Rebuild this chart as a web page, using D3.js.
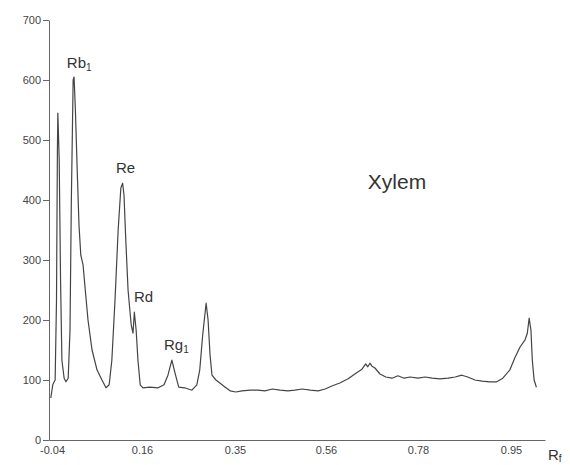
<!DOCTYPE html>
<html>
<head>
<meta charset="utf-8">
<script src="https://cdn.jsdelivr.net/npm/d3@7"></script>
<style>
  body { margin: 0; background: #fff; }
  svg { display: block; }
  .axis text { font-family: "Liberation Sans Narrow", "Liberation Sans", Arial, sans-serif; font-size: 11px; fill: #444; }
  .axis path, .axis line { stroke: #666; }
  .lbl { font-family: "Liberation Sans", Arial, sans-serif; fill: #333; }
</style>
</head>
<body>
<script>
// densitometer trace, Rf vs intensity
const rfTicks = [-0.04, 0.16, 0.35, 0.56, 0.78, 0.95];
const rfTickLabels = ['-0.04', '0.16', '0.35', '0.56', '0.78', '0.95'];
const yTicks = [0, 100, 200, 300, 400, 500, 600, 700];

const traceRf = [
  -0.042, -0.038, -0.033, -0.030, -0.028, -0.027, -0.024, -0.021, -0.018, -0.013,
  -0.009, -0.004, 0.000, 0.003, 0.007, 0.009, 0.012, 0.016, 0.020, 0.024,
  0.029, 0.033, 0.040, 0.049, 0.060, 0.071, 0.080, 0.087, 0.093, 0.100,
  0.107, 0.113, 0.117, 0.120, 0.124, 0.129, 0.136, 0.140, 0.143, 0.147,
  0.151, 0.156, 0.162, 0.176, 0.193, 0.205, 0.213, 0.221, 0.227, 0.235,
  0.247, 0.262, 0.272, 0.278, 0.284, 0.291, 0.295, 0.299, 0.303, 0.311,
  0.319, 0.330, 0.340, 0.352, 0.366, 0.385, 0.403, 0.419, 0.436, 0.454,
  0.472, 0.488, 0.505, 0.524, 0.542, 0.558, 0.574, 0.593, 0.613, 0.629,
  0.646, 0.655, 0.660, 0.665, 0.670, 0.677, 0.689, 0.703, 0.718, 0.732,
  0.747, 0.761, 0.780, 0.793, 0.806, 0.820, 0.835, 0.848, 0.860, 0.871,
  0.884, 0.897, 0.911, 0.924, 0.935, 0.948, 0.959, 0.970, 0.981, 0.986,
  0.990, 0.994, 0.997, 1.001, 1.006
];
const traceVal = [
  70, 93, 100, 233, 483, 545, 467, 267, 133, 103,
  97, 103, 183, 400, 600, 605, 550, 450, 358, 308,
  292, 258, 200, 150, 117, 100, 87, 92, 133, 233,
  350, 420, 428, 408, 333, 250, 192, 178, 213, 183,
  133, 92, 87, 88, 87, 92, 108, 133, 113, 88,
  87, 83, 92, 117, 175, 228, 200, 142, 108, 100,
  95, 88, 82, 80, 82, 83, 83, 82, 85, 83,
  82, 83, 85, 83, 82, 85, 90, 95, 102, 110,
  118, 127, 122, 128, 123, 120, 110, 105, 103, 107,
  103, 105, 103, 105, 103, 102, 103, 105, 108, 105,
  100, 98, 97, 97, 103, 117, 138, 155, 167, 178,
  203, 183, 133, 100, 88
];

const peakNames = [
  {name: 'Rb', sub: '1', rf: -0.007, v: 620},
  {name: 'Re', sub: '', rf: 0.102, v: 445},
  {name: 'Rd', sub: '', rf: 0.142, v: 230},
  {name: 'Rg', sub: '1', rf: 0.205, v: 150}
];

const W = 570, H = 465;
const svg = d3.select('body').append('svg').attr('width', W).attr('height', H);

// label positions are evenly spaced on the plate, not linear in Rf
const x = d3.scaleLinear()
  .domain([-0.045, ...rfTicks, 1.025])
  .range([49, 52, 142, 235, 326, 418, 511, 545]);
const y = d3.scaleLinear().domain([0, 700]).range([440, 20]);

svg.append('g')
  .attr('class', 'axis')
  .attr('transform', 'translate(49,0)')
  .call(d3.axisLeft(y).tickValues(yTicks).tickSize(6).tickSizeOuter(0).tickPadding(2));

svg.append('g')
  .attr('class', 'axis')
  .attr('transform', 'translate(0,440)')
  .call(d3.axisBottom(x).tickValues(rfTicks).tickSize(0).tickSizeOuter(0).tickPadding(6)
    .tickFormat((d, i) => rfTickLabels[i]));

const pts = traceRf.map((r, i) => [r, traceVal[i]]);
svg.append('path')
  .datum(pts)
  .attr('fill', 'none')
  .attr('stroke', '#444')
  .attr('stroke-width', 1.2)
  .attr('stroke-linejoin', 'round')
  .attr('d', d3.line().x(d => x(d[0])).y(d => y(d[1])));

const lab = svg.selectAll('text.peak').data(peakNames).enter()
  .append('text')
  .attr('class', 'lbl peak')
  .attr('x', d => x(d.rf))
  .attr('y', d => y(d.v))
  .attr('font-size', 15);
lab.append('tspan').text(d => d.name);
lab.append('tspan').attr('font-size', 10).attr('dy', 3).text(d => d.sub);

svg.append('text').attr('class', 'lbl')
  .attr('x', x(0.66)).attr('y', y(418))
  .attr('font-size', 21)
  .text('Xylem');

const rf = svg.append('text').attr('class', 'lbl')
  .attr('x', 548).attr('y', 460).attr('font-size', 15);
rf.append('tspan').text('R');
rf.append('tspan').attr('font-size', 10).attr('dy', 2).text('f');
</script>
</body>
</html>
